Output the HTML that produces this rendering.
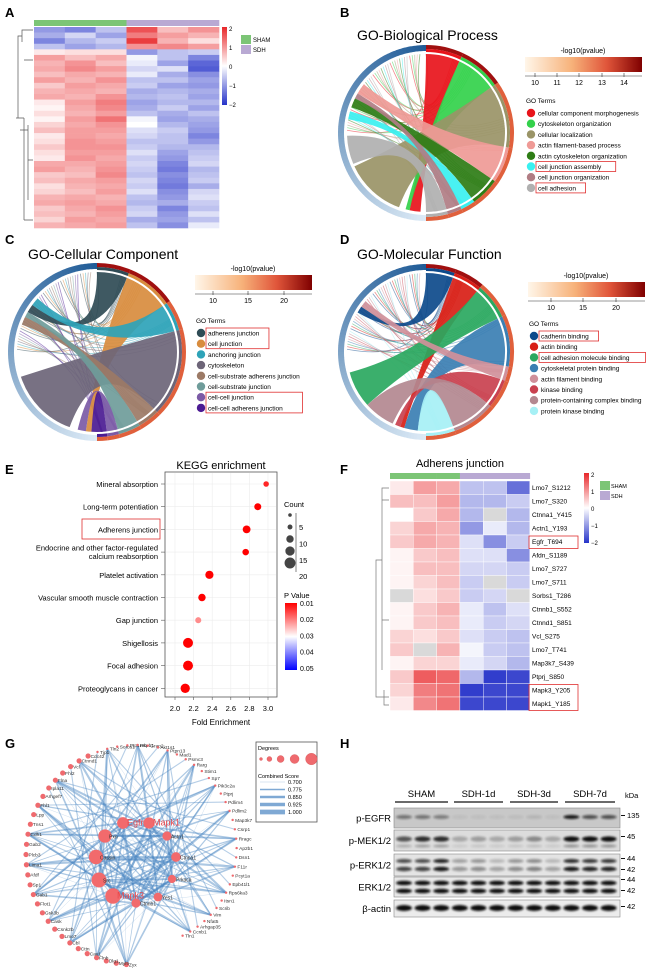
<!DOCTYPE html>
<html><head><meta charset="utf-8"><title>Figure</title>
<style>
body{margin:0;background:#fff}
svg{display:block;font-family:"Liberation Sans",Arial,sans-serif}
</style></head>
<body>
<svg id="fig" width="671" height="977" viewBox="0 0 671 977">
<defs>
<linearGradient id="divg" x1="0" y1="0" x2="0" y2="1"><stop offset="0" stop-color="#e8272a"/><stop offset="0.5" stop-color="#ffffff"/><stop offset="1" stop-color="#2633c9"/></linearGradient>
<linearGradient id="pvg" x1="0" y1="0" x2="0" y2="1"><stop offset="0" stop-color="#ff0000"/><stop offset="0.5" stop-color="#ffffff"/><stop offset="1" stop-color="#0000ff"/></linearGradient>
<linearGradient id="org" x1="0" y1="0" x2="1" y2="0"><stop offset="0" stop-color="#fff6e9"/><stop offset="0.4" stop-color="#f7b27a"/><stop offset="0.7" stop-color="#e0553a"/><stop offset="1" stop-color="#7f0000"/></linearGradient>
<filter id="blur" x="-20%" y="-50%" width="140%" height="200%"><feGaussianBlur stdDeviation="1"/></filter>
</defs>
<g font-weight="bold" font-size="13">
<text x="5" y="17">A</text><text x="340" y="17">B</text><text x="5" y="244">C</text><text x="340" y="244">D</text>
<text x="5" y="474">E</text><text x="340" y="474">F</text><text x="5" y="748">G</text><text x="340" y="748">H</text>
</g>
<text x="357" y="40" font-size="14">GO-Biological Process</text>
<text x="28" y="259" font-size="14">GO-Cellular Component</text>
<text x="357" y="259" font-size="14">GO-Molecular Function</text>
<text x="221" y="469" font-size="11" text-anchor="middle">KEGG enrichment</text>
<text x="460" y="467" font-size="11" text-anchor="middle">Adherens junction</text>
<text x="221" y="725" font-size="8" text-anchor="middle">Fold Enrichment</text>
</svg>
<script>
const svg=document.getElementById('fig');
const NS='http://www.w3.org/2000/svg';
function mk(tag,attrs,parent){const e=document.createElementNS(NS,tag);for(const k in attrs)e.setAttribute(k,attrs[k]);(parent||svg).appendChild(e);return e;}
function txt(x,y,s,size,extra,parent){const e=mk('text',Object.assign({x:x,y:y,'font-size':size},extra||{}),parent);e.textContent=s;return e;}
function div(v){if(v===null)return '#d9d9d9';const t=Math.max(-1,Math.min(1,v/2));let r,g,b;if(t>=0){r=255-(255-232)*t;g=255-(255-39)*t;b=255-(255-42)*t;}else{const u=-t;r=255-(255-38)*u;g=255-(255-51)*u;b=255-(255-201)*u;}return 'rgb('+Math.round(r)+','+Math.round(g)+','+Math.round(b)+')';}

/* ---------- Panel A data ---------- */
const heatA=[
[-1.0,-1.2,-0.6,1.6,0.6,1.0],[-0.8,-0.4,-0.9,1.2,0.9,0.7],[-1.2,-0.7,-0.5,1.8,0.7,0.3],[-0.6,-0.9,-0.7,1.0,1.1,0.9],
[0.2,0.3,0.3,-1.0,-0.6,-0.5],[0.9,0.6,0.8,-0.1,-0.6,-1.2],[0.7,1.0,0.6,-0.2,-0.9,-1.5],[0.8,1.1,0.9,-0.4,-0.3,-1.6],
[0.6,0.8,0.7,-0.2,-0.8,-1.1],[0.9,0.7,1.0,-0.6,-0.6,-0.9],[0.5,0.9,0.8,-0.5,-0.9,-1.0],[0.7,0.8,0.7,-0.8,-0.7,-0.8],
[0.8,0.7,1.0,-0.7,-0.6,-0.9],[0.2,0.9,1.2,-0.9,-0.7,-0.7],[0.1,0.8,1.1,-0.8,-0.5,-0.9],[0.3,0.7,0.9,-0.6,-0.8,-0.6],
[0.1,0.9,1.3,-0.1,-0.9,-0.8],[0.4,0.8,1.0,0.0,-0.7,-0.9],[0.6,0.9,0.9,-0.3,-0.5,-1.0],[0.2,0.9,0.8,-0.4,-0.6,-1.2],
[0.3,1.0,0.9,-0.6,-0.6,-1.0],[0.5,1.0,1.0,-0.5,-0.7,-0.7],[0.3,0.9,0.9,-0.3,-0.9,-0.6],[0.2,1.0,0.8,-0.5,-1.0,-0.5],
[0.8,0.8,0.9,-0.4,-1.2,-0.4],[0.9,0.7,1.0,-0.5,-1.3,-0.7],[0.5,0.6,1.1,-0.6,-1.1,-0.6],[0.6,0.8,0.9,-0.4,-1.2,-0.5],
[0.3,0.7,0.8,-0.5,-1.3,-0.8],[0.4,0.6,0.9,-0.3,-1.1,-0.4],[0.7,0.8,0.7,-0.6,-1.0,-0.3],[0.8,0.9,0.8,-0.7,-0.8,-0.5],
[0.5,0.8,1.0,-0.5,-1.2,-0.6],[0.6,0.7,0.9,-0.4,-1.0,-0.3],[0.4,0.9,0.8,-0.8,-0.9,-0.6],[0.7,0.8,0.9,-0.6,-1.1,-0.2]];
const sampleGroupsA=['SHAM','SHAM','SHAM','SDH','SDH','SDH'];
const colorTicks=['2','1','0','\u22121','\u22122'];
const groupColor={SHAM:'#7cc576',SDH:'#b9a9d3'};

(function(){
 const g=mk('g',{});
 const x0=34,w=185,y0=27,h=201,cw=w/6,rh=h/heatA.length;
 sampleGroupsA.forEach((s,j)=>{const r=mk('rect',{x:x0+j*cw,y:20,width:cw+0.3,height:6,fill:groupColor[s]},g);});
 heatA.forEach((row,i)=>row.forEach((v,j)=>{const r=mk('rect',{x:x0+j*cw,y:y0+i*rh,width:cw+0.3,height:rh+0.3,fill:div(v)},g);}));
 const d=mk('path',{d:'M33 30H22V42M22 36H18V118H24M24 60H33M24 118V220M18 118H16M24 220H33M20 130H28M28 125V200M28 160H33',stroke:'#555','stroke-width':0.7,fill:'none'},g);
 const cb=mk('rect',{x:222,y:27,width:5,height:78,fill:'url(#divg)'},g);
 colorTicks.forEach((t,i)=>{const e=txt(229,31+i*19,t,6,{},g);});
 ['SHAM','SDH'].forEach((s,i)=>{const r=mk('rect',{x:241,y:35+i*10,width:10,height:9,fill:groupColor[s]},g);const e=txt(253,42+i*10,s,6,{},g);});
})();

/* ---------- Circos panels ---------- */
const bpTerms=['cellular component morphogenesis','cytoskeleton organization','cellular localization','actin filament-based process','actin cytoskeleton organization','cell junction assembly','cell junction organization','cell adhesion'];
const bpColors=['#e8141b','#33d14b','#9a9467','#ef9a96','#2e7d16','#39f0f0','#b07d84','#b0b0b0'];
const bpShares=[25,30,45,25,20,10,10,15];
const bpTargets=[[184,192],[192,195],[200,245],[300,308],[289,296],[280,286],[296,300],[247,268]];
const ccTerms=['adherens junction','cell junction','anchoring junction','cytoskeleton','cell-substrate adherens junction','cell-substrate junction','cell-cell junction','cell-cell adherens junction'];
const ccColors=['#2f4b55','#d88c3e','#2ea3b8','#6d6578','#9c7a66','#6f9c9a','#7b5aa6','#4b1b93'];
const ccShares=[22,33,20,60,15,15,8,7];
const ccTargets=[[300,306],[184,188],[306,312],[200,252],[290,296],[296,300],[188,194],[179,184]];
const ccBoxed=[[0,1],[6,7]];
const mfTerms=['cadherin binding','actin binding','cell adhesion molecule binding','cytoskeletal protein binding','actin filament binding','kinase binding','protein-containing complex binding','protein kinase binding'];
const mfColors=['#0d4a8b','#d81e16','#2aa860','#3b7fb3','#d0909a','#c9414f','#b38890','#a6f0f5'];
const mfShares=[20,20,25,35,10,20,30,20];
const mfTargets=[[300,305],[196,199],[228,255],[186,196],[305,310],[199,203],[205,228],[180,186]];
const mfBoxed=[[0,0],[2,2]];

function P(cx,cy,R,a){const t=a*Math.PI/180;return [cx+R*Math.sin(t),cy-R*Math.cos(t)];}
function arcPath(cx,cy,r1,r2,a0,a1){const p0=P(cx,cy,r2,a0),p1=P(cx,cy,r2,a1),p2=P(cx,cy,r1,a1),p3=P(cx,cy,r1,a0);const L=(a1-a0)>180?1:0;return 'M'+p0+'A'+r2+' '+r2+' 0 '+L+' 1 '+p1+'L'+p2+'A'+r1+' '+r1+' 0 '+L+' 0 '+p3+'Z';}
function circos(name,cx,cy,r,colors,shares,targets){
 const g=mk('g',{});
 for(let a=180;a<360;a+=2){const t=(a-180)/180;const c='rgb('+Math.round(220-190*t)+','+Math.round(234-144*t)+','+Math.round(246-96*t)+')';const s=mk('path',{d:arcPath(cx,cy,r-6,r,a,a+2.2),fill:c},g);}
 const tot=shares.reduce((a,b)=>a+b,0);let acc=0;const spans=[];
 shares.forEach((s,i)=>{const a0=acc/tot*180,a1=(acc+s)/tot*180;acc+=s;spans.push([a0,a1]);
  const pr=mk('path',{d:arcPath(cx,cy,r-4,r,a0,a1),fill:i<2?'#a01010':'#e0603c'},g);
  const tr=mk('path',{d:arcPath(cx,cy,r-7,r-4,a0,a1),fill:colors[i]},g);});
 const R=r-9;
 for(let k=0;k<45;k++){const i=k%colors.length;const sp=spans[i];const ta=sp[0]+(sp[1]-sp[0])*((k*37%100)/100);const ga=272+k*1.9;const p0=P(cx,cy,R,ta),p1=P(cx,cy,R,ga);const c=P(cx,cy,R*0.25,(ta+ga)/2);
  const l=mk('path',{d:'M'+p0+'Q'+c+' '+p1,stroke:colors[i],'stroke-width':0.8,fill:'none',opacity:0.5},g);}
 shares.forEach((s,i)=>{const [t0,t1]=spans[i];const [g0,g1]=targets[i];const pt0=P(cx,cy,R,t0),pt1=P(cx,cy,R,t1),pg0=P(cx,cy,R,g0),pg1=P(cx,cy,R,g1);
  const d='M'+pt0+'A'+R+' '+R+' 0 0 1 '+pt1+'Q'+cx+','+cy+' '+pg0+'A'+R+' '+R+' 0 0 1 '+pg1+'Q'+cx+','+cy+' '+pt0+'Z';
  const rb=mk('path',{d:d,fill:colors[i],opacity:0.92},g);});
}
function circLegend(name,x,y,ticks,tickPos,terms,colors,boxes,ty){
 const g=mk('g',{});
 const t=txt(x+58,y-4,'-log10(pvalue)',7,{'text-anchor':'middle'},g);
 const b=mk('rect',{x:x,y:y,width:117,height:15,fill:'url(#org)'},g);
 mk('path',{d:'M'+x+' '+(y+19)+'H'+(x+117),stroke:'#333','stroke-width':0.6},g);
 ticks.forEach((s,i)=>{mk('path',{d:'M'+(x+tickPos[i])+' '+(y+16)+'V'+(y+20),stroke:'#333','stroke-width':0.6},g);const e=txt(x+tickPos[i],y+28,s,7,{'text-anchor':'middle'},g);});
 const h=txt(x+1,ty,'GO Terms',6.5,{},g);
 terms.forEach((s,i)=>{const cy=ty+10+i*10.7;const c=mk('circle',{cx:x+6,cy:cy,r:4.2,fill:colors[i]},g);const e=txt(x+13,cy+2.5,s,6.5,{},g);});
 boxes.forEach(bx=>{const y0=ty+10+bx[0]*10.7-5,y1=ty+10+bx[1]*10.7+5;const w=Math.max(...terms.slice(bx[0],bx[1]+1).map(s=>s.length))*3.35+6;const r=mk('rect',{x:x+11,y:y0,width:w,height:y1-y0,fill:'none',stroke:'#e03030','stroke-width':0.8},g);});
}
circos('circos-bp',426,133,88,bpColors,bpShares,bpTargets);
circLegend('legend-bp',525,57,['10','11','12','13','14'],[10,32,54,77,99],bpTerms,bpColors,[[5,5],[7,7]],103);
circos('circos-cc',97,352,89,ccColors,ccShares,ccTargets);
circLegend('legend-cc',195,275,['10','15','20'],[18,53,89],ccTerms,ccColors,ccBoxed,323);
circos('circos-mf',426,352,88,mfColors,mfShares,mfTargets);
circLegend('legend-mf',528,282,['10','15','20'],[23,55,88],mfTerms,mfColors,mfBoxed,326);

/* ---------- Panel E: KEGG ---------- */
const keggCategories=['Mineral absorption','Long-term potentiation','Adherens junction','Endocrine and other factor-regulated|calcium reabsorption','Platelet activation','Vascular smooth muscle contraction','Gap junction','Shigellosis','Focal adhesion','Proteoglycans in cancer'];
const keggFold=[2.98,2.89,2.77,2.76,2.37,2.29,2.25,2.14,2.14,2.11];
const keggCount=[6,9,11,8,12,10,7,17,17,15];
const keggP=[0.013,0.006,0.005,0.006,0.004,0.005,0.021,0.003,0.003,0.003];
const keggXTicks=[2.0,2.2,2.4,2.6,2.8,3.0];
const countTicks=[5,10,15,20];
const pTicks=['0.01','0.02','0.03','0.04','0.05'];
(function(){
 const g=mk('g',{});
 const X=v=>175+(v-2.0)*93;const Y=i=>484+i*22.7;const Rz=c=>1.33*Math.sqrt(c)-0.5;
 const pc=p=>{const t=(p-0.01)/0.04;let r,gg,b;if(t<0.5){const u=t*2;r=255;gg=255*u;b=255*u;}else{const u=(t-0.5)*2;r=255*(1-u);gg=255*(1-u);b=255;}return 'rgb('+Math.round(r)+','+Math.round(gg)+','+Math.round(b)+')';};
 const box=mk('rect',{x:165,y:472,width:112,height:225,fill:'#fff',stroke:'#555','stroke-width':0.8},g);
 keggXTicks.forEach(v=>{mk('path',{d:'M'+X(v)+' 473V696',stroke:'#ececec','stroke-width':0.6},g);mk('path',{d:'M'+X(v)+' 697V700',stroke:'#555','stroke-width':0.6},g);const e=txt(X(v),711,v.toFixed(1),7.5,{'text-anchor':'middle'},g);});
 keggCategories.forEach((c,i)=>{mk('path',{d:'M166 '+Y(i)+'H276',stroke:'#ececec','stroke-width':0.6},g);mk('path',{d:'M161 '+Y(i)+'H165',stroke:'#555','stroke-width':0.6},g);
  const parts=c.split('|');parts.forEach((s,k)=>{const e=txt(158,Y(i)+3-(parts.length-1)*4.5+k*8.5,s,7.5,{'text-anchor':'end'},g);});
  const d=mk('circle',{cx:X(keggFold[i]),cy:Y(i),r:Rz(keggCount[i]),fill:pc(keggP[i])},g);});
 const hb=mk('rect',{x:82,y:519,width:78,height:20,fill:'none',stroke:'#e03030','stroke-width':0.8},g);
 const ct=txt(284,507,'Count',7.5,{},g);
 mk('path',{d:'M296 513V572',stroke:'#333','stroke-width':0.6},g);
 const cc=[3,5,10,15,20];cc.forEach((c,i)=>{const cy=513+i*12;const d=mk('circle',{cx:290,cy:cy+2,r:Rz(c),fill:'#444'},g);});
 countTicks.forEach((c,i)=>{const e=txt(299,530+i*16.4,String(c),7.5,{},g);});
 const pt=txt(284,598,'P Value',7.5,{},g);
 const pb=mk('rect',{x:285,y:603,width:12,height:67,fill:'url(#pvg)'},g);
 pTicks.forEach((s,i)=>{const e=txt(300,606+i*16.2,s,7,{},g);});
})();

/* ---------- Panel F ---------- */
const adhRows=['Lmo7_S1212','Lmo7_S320','Ctnna1_Y415','Actn1_Y193','Egfr_T694','Afdn_S1189','Lmo7_S727','Lmo7_S711','Sorbs1_T286','Ctnnb1_S552','Ctnnd1_S851','Vcl_S275','Lmo7_T741','Map3k7_S439','Ptprj_S850','Mapk3_Y205','Mapk1_Y185'];
const adhValues=[
[0.2,0.9,0.8,-0.6,-0.6,-1.4],[0.6,0.6,0.9,-0.7,-0.7,-0.5],[0.0,0.5,0.8,-0.7,null,-0.7],[0.4,0.8,0.7,-1.0,-0.2,-0.7],
[0.5,0.8,0.7,-0.3,-1.1,-0.5],[0.1,0.5,0.6,-0.3,-0.3,-1.1],[0.1,0.6,0.6,-0.4,-0.4,-0.5],[0.1,0.4,0.6,-0.5,null,-0.5],
[null,0.3,0.5,-0.5,-0.4,null],[0.1,0.5,0.7,-0.2,-0.6,-0.3],[0.1,0.5,0.6,-0.2,-0.5,-0.4],[0.4,0.3,0.5,-0.3,-0.5,-0.6],
[0.5,null,0.7,-0.1,-0.5,-0.6],[0.1,0.4,0.4,-0.2,-0.4,-0.7],[0.5,1.5,1.4,-0.7,-1.9,-1.8],[0.4,1.2,1.3,-1.9,-1.8,-1.8],[0.2,1.1,1.3,-1.8,-1.8,-1.8]];
(function(){
 const g=mk('g',{});
 const x0=390,cw=23.3,y0=481,rh=13.5;
 sampleGroupsA.forEach((s,j)=>{const r=mk('rect',{x:x0+j*cw,y:473,width:cw+0.3,height:6,fill:groupColor[s]},g);});
 adhValues.forEach((row,i)=>{row.forEach((v,j)=>{const r=mk('rect',{x:x0+j*cw,y:y0+i*rh,width:cw,height:rh,fill:div(v),stroke:'#fff','stroke-width':0.4},g);});
  const e=txt(532,y0+i*rh+9,adhRows[i],6.5,{},g);});
 [[4,4],[15,16]].forEach(b=>{const r=mk('rect',{x:529,y:y0+b[0]*rh+1,width:49,height:(b[1]-b[0]+1)*rh-1,fill:'none',stroke:'#e03030','stroke-width':0.8},g);});
 const d=mk('path',{d:'M389 488H382V670M382 560H376V697H384M384 690V705H389M384 697H389M382 500H389M382 620H389',stroke:'#777','stroke-width':0.7,fill:'none'},g);
 const cb=mk('rect',{x:584,y:473,width:5,height:70,fill:'url(#divg)'},g);
 colorTicks.forEach((t,i)=>{const e=txt(591,477+i*17,t,6,{},g);});
 ['SHAM','SDH'].forEach((s,i)=>{const r=mk('rect',{x:600,y:481+i*10,width:10,height:9,fill:groupColor[s]},g);const e=txt(611,488+i*10,s,5.5,{},g);});
})();

/* ---------- Panel G network ---------- */
const outerNodes=['Zyx','Myl9','Dlg1','Flnb','Cav1','Cttn','Cbl','Lmo7','Csnk2b','Cask','Gsk3b','Flot1','Gab1','Sp1','Afdf','Lima1','Plcb3','Gab2','Cdh1','Tns1','Lpp','Fhl1','Arhgef7','Ipla11','Flna','Fhl2','Vcl','Ctnnd1','Cdc42','Tjp1','Tln2','Sorbs1','Ptp1r9b','Hspb1','Grap2','Akt1s1','Ptpn13','Mad1','Psmc3','Rarg','Stim1','Sp7','Pik3c2a','Ptprj','Pdlim4','Pdlim2','Map3k7','Csrp1','Rragc','Ap2b1','Dsn1','F11r','Pcyt1a','Epb41l1','Rps6ka3','Itsn1','Scrib','Vim','Nfat5','Arhgap35','Ccnb1','Tln1'];
const hubNames=['Egfr','Mapk1','Pxn','Cassin','Src','Mapk3','Ctnnb1','Yes1','Prkaca','Ctnna1','Actn1'];
const hubDegree=[30,28,36,40,42,44,20,18,16,22,20];
const hubPos=[[123,823],[149,823],[105,836],[96,857],[99,880],[113,896],[136,903],[158,897],[172,879],[176,857],[167,836]];
const edgeScores=[0.70,0.775,0.85,0.925,1.0];
(function(){
 const g=mk('g',{});
 const cx=136,cy=855,n=outerNodes.length;
 const pos=outerNodes.map((s,i)=>{const a=185+i*(325/(n-1));const rr=a>370?110-(a-370)*0.12:110;return P(cx,cy,rr,a);});
 const eg=mk('g',{},g);
 hubPos.forEach((h,k)=>{pos.forEach((p,i)=>{if((i*7+k*3)%6===0){const sc=edgeScores[(i+k)%5];const l=mk('line',{x1:h[0],y1:h[1],x2:p[0],y2:p[1],stroke:'#4a86c2','stroke-width':0.3+(sc-0.7)*6,opacity:0.45},eg);}});
  hubPos.forEach((h2,k2)=>{if(k2>k&&(k+k2)%2===0){const l=mk('line',{x1:h[0],y1:h[1],x2:h2[0],y2:h2[1],stroke:'#4a86c2','stroke-width':1.8,opacity:0.5},eg);}});});
 pos.forEach((p,i)=>{if(i%3===0){const q=pos[(i+23)%n];const l=mk('line',{x1:p[0],y1:p[1],x2:q[0],y2:q[1],stroke:'#4a86c2','stroke-width':1.1,opacity:0.4},eg);}});
 pos.forEach((p,i)=>{const left=i<29;const c=mk('circle',{cx:p[0],cy:p[1],r:left?2.6:1.2,fill:'#ef6a6e'},g);
  const e=txt(p[0]+2.5,p[1]+1.8,outerNodes[i],4.8,{fill:'#333'},g);});
 hubPos.forEach((h,k)=>{const c=mk('circle',{cx:h[0],cy:h[1],r:2+hubDegree[k]*0.13,fill:'#f26a6c'},g);
  const big=['Egfr','Mapk1','Mapk3'].includes(hubNames[k]);const e=txt(h[0]+4,h[1]+2.5,hubNames[k],big?9:5,{fill:big?'#e8474b':'#333'},g);});
 const lg=mk('g',{});
 mk('rect',{x:256,y:742,width:61,height:80,fill:'#fff',stroke:'#555','stroke-width':0.8},lg);
 txt(258,750,'Degrees',5.5,{},lg);
 [1.5,2.5,3.5,4.5,5.8].forEach((r,i)=>{const c=mk('circle',{cx:261+i*(7+i*1.4),cy:759,r:r,fill:'#ef6a6e',stroke:'#c44','stroke-width':0.3},lg);});
 txt(258,778,'Combined Score',5.5,{},lg);
 edgeScores.forEach((s,i)=>{mk('line',{x1:260,y1:784+i*7.5-2,x2:285,y2:784+i*7.5-2,stroke:'#4a86c2','stroke-width':0.3+i*1.1,opacity:0.7},lg);const e=txt(288,784+i*7.5,s.toFixed(3),5.5,{},lg);});
})();

/* ---------- Panel H western blot ---------- */
const blotGroups=['SHAM','SDH-1d','SDH-3d','SDH-7d'];
const blotRows=['p-EGFR','p-MEK1/2','p-ERK1/2','ERK1/2','\u03b2-actin'];
const pEGFR=[0.45,0.45,0.4,0.05,0.05,0.05,0.06,0.1,0.05,0.95,0.65,0.65];
const pMEK=[0.65,0.85,0.85,0.25,0.3,0.25,0.3,0.4,0.25,1,1,1];
const pERK44=[0.7,0.7,0.9,0.3,0.35,0.2,0.35,0.4,0.2,0.85,0.8,0.8];
const pERK42=[0.75,0.75,0.95,0.35,0.4,0.3,0.4,0.45,0.3,0.95,0.9,0.9];
const totalERK=[1,1,1,1,1,1,1,1,1,1,1,1];
const bActin=[1,1,1,1,1,1,1,1,1,1,1,1];
(function(){
 const g=mk('g',{});
 const lx=i=>404+i*18.6;
 const gx=[[395,448],[454,503],[510,558],[565,615]];
 blotGroups.forEach((s,i)=>{const e=txt((gx[i][0]+gx[i][1])/2,797,s,9.5,{'text-anchor':'middle'},g);mk('path',{d:'M'+gx[i][0]+' 802H'+gx[i][1],stroke:'#111','stroke-width':1.2},g);});
 txt(625,798,'kDa',7.5,{},g);
 const boxes=[[808,20,'#c8c8c8'],[830,21,'#dcdcdc'],[854,22,'#e4e4e4'],[877,20,'#e8e8e8'],[900,17,'#ececec']];
 boxes.forEach((b,r)=>{const rc=mk('rect',{x:394,y:b[0],width:226,height:b[1],fill:b[2],stroke:'#888','stroke-width':0.6},g);
  const e=txt(391,b[0]+b[1]/2+3.5,blotRows[r],9.5,{'text-anchor':'end'},g);});
 function bands(arr,y,h,name){arr.forEach((v,i)=>{const e=mk('ellipse',{cx:lx(i),cy:y,rx:8,ry:h,fill:'#111',opacity:Math.max(0.05,v),filter:'url(#blur)'},g);});}
 bands(pEGFR,817,2,'band-pegfr');bands(pMEK,839,2.6,'band-pmek');bands(pMEK.map(v=>v*0.35),846,1.5,'band-pmek-lower');
 bands(pERK44,861,2,'band-perk44');bands(pERK42,869,2.2,'band-perk42');
 bands(totalERK,883,2.3,'band-erk44');bands(totalERK,891,2.3,'band-erk42');bands(bActin,908,3,'band-actin');
 [['135',818],['45',839],['44',861],['42',872],['44',882],['42',893],['42',909]].forEach(m=>{mk('path',{d:'M621 '+(m[1]-2.5)+'H625',stroke:'#111','stroke-width':1},g);const e=txt(627,m[1],m[0],7.5,{},g);});
})();
</script>
</body></html>
